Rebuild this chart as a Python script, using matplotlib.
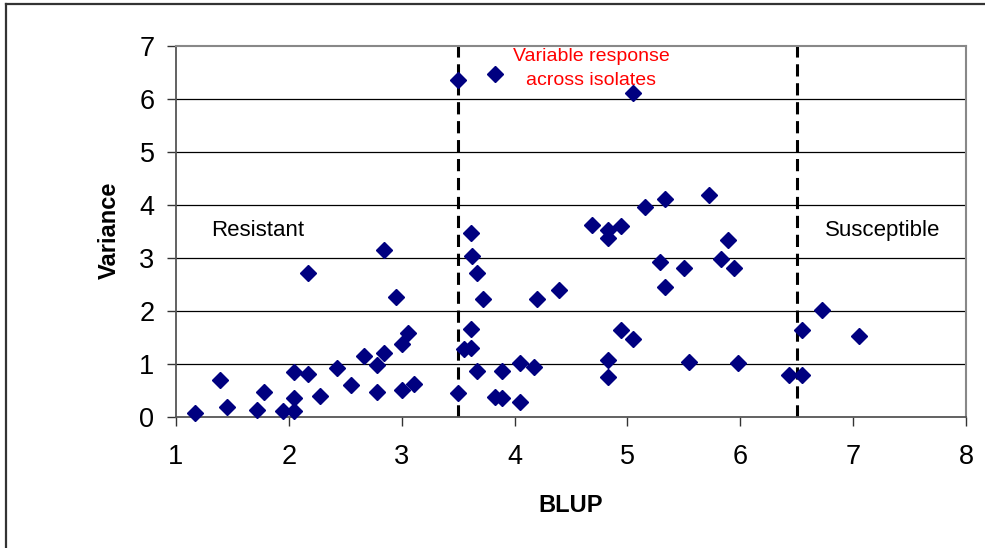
import matplotlib
matplotlib.use("Agg")
import matplotlib.pyplot as plt
from matplotlib.lines import Line2D

plt.rcParams['font.family'] = ['Liberation Sans', 'DejaVu Sans']

blup = [1.17, 1.39, 1.45, 1.72, 1.78, 1.95, 2.05, 2.05, 2.05, 2.17, 2.17, 2.28, 2.43, 2.55,
        2.67, 2.78, 2.78, 2.84, 2.84, 2.95, 3.00, 3.06, 3.00, 3.11, 3.50,
        3.50, 3.83, 5.05,
        3.61, 3.62, 3.67, 3.72, 4.20, 4.39, 4.69, 4.83, 4.83, 4.94, 5.29, 5.33, 5.50, 5.83,
        5.89, 5.94, 3.61, 3.55, 3.61, 3.67, 3.83, 3.89, 3.89, 4.05, 4.05, 4.17, 4.94,
        5.05, 4.83, 4.83, 5.55, 5.98, 5.16, 5.33, 5.72,
        6.72, 6.55, 7.05, 6.43, 6.55]
variance = [0.08, 0.69, 0.18, 0.14, 0.47, 0.11, 0.35, 0.11, 0.85, 0.82, 2.71, 0.40, 0.92, 0.61,
            1.15, 0.99, 0.47, 1.20, 3.16, 2.26, 1.38, 1.59, 0.51, 0.63, 0.45,
            6.36, 6.47, 6.11,
            3.48, 3.04, 2.71, 2.23, 2.23, 2.40, 3.62, 3.53, 3.38, 3.61, 2.92, 2.45, 2.82, 2.98,
            3.34, 2.81, 1.66, 1.28, 1.30, 0.87, 0.38, 0.36, 0.87, 0.29, 1.02, 0.95, 1.65,
            1.47, 1.07, 0.76, 1.03, 1.01, 3.97, 4.11, 4.18,
            2.02, 1.64, 1.53, 0.80, 0.80]
thresholds = [3.5, 6.5]
x_ticks = [1, 2, 3, 4, 5, 6, 7, 8]
y_ticks = [0, 1, 2, 3, 4, 5, 6, 7]

W, H = 985, 548
fig = plt.figure(figsize=(W / 100, H / 100), dpi=100)
# outer chart-area border (only left and top visible in the reference crop)
fig.add_artist(Line2D([5.5 / W, 5.5 / W], [0, 1 - 4 / H], transform=fig.transFigure,
                      color='#333333', linewidth=1.6))
fig.add_artist(Line2D([5.5 / W, 1], [1 - 4 / H, 1 - 4 / H], transform=fig.transFigure,
                      color='#333333', linewidth=1.6))

ax = fig.add_axes([176 / W, (H - 417) / H, 790 / W, 371 / H])

ax.set_xlim(1, 8)
ax.set_ylim(0, 7)
ax.set_xticks(x_ticks)
ax.set_yticks(y_ticks)
ax.tick_params(axis='both', direction='out', length=6.5, width=1, colors='#333333',
               labelsize=19.5, labelcolor='black')
ax.tick_params(axis='x', pad=13)
ax.tick_params(axis='y', pad=9)

for y in y_ticks[1:-1]:
    ax.axhline(y, color='black', linewidth=0.9, zorder=1)

for s in ['left', 'bottom']:
    ax.spines[s].set_color('#555555')
    ax.spines[s].set_linewidth(1.3)
for s in ['top', 'right']:
    ax.spines[s].set_color('#888888')
    ax.spines[s].set_linewidth(1.5)

for t in thresholds:
    ax.axvline(t, color='black', linewidth=2.2, linestyle=(0, (4, 2.2)), zorder=2)

ax.plot(blup, variance, linestyle='none', marker='D', markersize=8,
        color='#000080', markeredgecolor='#000080', zorder=3, clip_on=False)

ax.text(1.72, 3.51, 'Resistant', fontsize=16, ha='center', va='center')
ax.text(7.26, 3.51, 'Susceptible', fontsize=16, ha='center', va='center')
ax.text(4.68, 6.81, 'Variable response', fontsize=14, color='red',
        ha='center', va='center')
ax.text(4.68, 6.34, 'across isolates', fontsize=14, color='red',
        ha='center', va='center')

fig.text(571 / W, 1 - 506 / H, 'BLUP', fontsize=17, fontweight='bold',
         ha='center', va='center')
fig.text(109 / W, 1 - 230 / H, 'Variance', fontsize=17, fontweight='bold',
         ha='center', va='center', rotation=90)

fig.savefig('out.png', dpi=100)
